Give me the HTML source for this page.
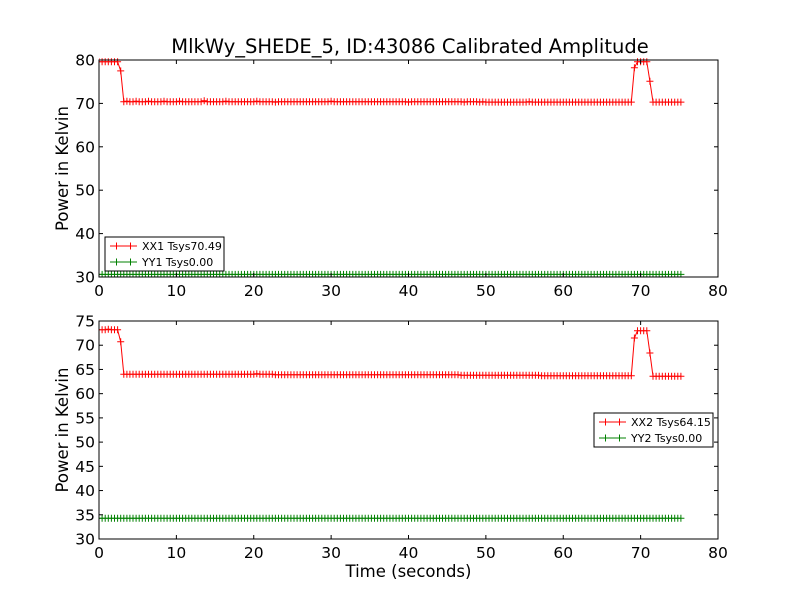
<!DOCTYPE html>
<html><head><meta charset="utf-8">
<style>
html,body{margin:0;padding:0;background:#fff;}
svg{display:block;font-family:"DejaVu Sans","Liberation Sans",sans-serif;}
</style></head>
<body>
<svg id="chart" width="800" height="600" viewBox="0 0 800 600" xmlns="http://www.w3.org/2000/svg">
<rect width="800" height="600" fill="#fff"/>
<text x="410" y="53" font-size="19.5" text-anchor="middle">MlkWy_SHEDE_5, ID:43086 Calibrated Amplitude</text>
<g id="g1"></g>
<g id="g2"></g>
</svg>
<script>
const dt = 0.4;
const xx1 = [79.6,79.6,79.6,79.6,79.6,79.6,79.6,77.5,
70.4,70.5,70.4,70.4,70.5,70.4,70.4,70.4,70.5,70.4,70.4,70.4,70.4,70.5,70.4,
70.4,70.4,70.4,70.5,70.4,70.4,70.4,70.4,70.4,70.4,70.4,70.6,70.4,70.4,70.4,
70.4,70.4,70.4,70.5,70.4,70.4,70.4,70.4,70.4,70.4,70.4,70.4,70.4,70.5,70.4,
70.4,70.4,70.4,70.4,70.3,70.4,70.4,70.4,70.4,70.4,70.4,70.4,70.4,70.4,70.4,
70.4,70.4,70.4,70.4,70.4,70.4,70.4,70.5,70.4,70.4,70.4,70.4,70.4,70.4,70.4,
70.4,70.4,70.4,70.4,70.4,70.4,70.4,70.4,70.4,70.4,70.4,70.4,70.4,70.4,70.4,
70.4,70.4,70.3,70.4,70.4,70.4,70.4,70.4,70.4,70.4,70.4,70.4,70.4,70.4,70.4,
70.4,70.4,70.4,70.4,70.4,70.3,70.4,70.4,70.4,70.4,70.3,70.4,70.3,70.3,70.3,
70.3,70.3,70.3,70.3,70.3,70.3,70.3,70.3,70.3,70.3,70.3,70.4,70.3,70.3,70.3,
70.3,70.3,70.3,70.3,70.3,70.3,70.3,70.3,70.3,70.3,70.3,70.3,70.3,70.3,70.3,
70.3,70.3,70.3,70.3,70.3,70.3,70.3,70.3,70.3,70.3,70.3,70.3,70.3,70.3,70.3,
78.2,79.6,79.6,79.6,79.6,75.1,
70.3,70.3,70.3,70.3,70.3,70.3,70.3,70.3,70.3,70.3];
const xx2 = [73.2,73.2,73.2,73.3,73.2,73.2,73.2,70.7,
64.0,64.0,64.0,64.0,64.0,64.0,64.0,64.0,64.0,64.0,64.0,64.0,64.0,64.0,64.0,
64.0,64.0,64.0,64.0,64.0,64.0,64.0,64.0,64.0,64.0,64.0,64.0,64.0,64.0,64.0,
64.0,64.0,64.0,64.0,64.0,64.0,64.0,64.0,64.0,64.0,64.0,64.0,64.0,64.1,64.0,
64.0,64.0,64.0,64.0,63.9,63.9,63.9,63.9,63.9,63.9,63.9,63.9,63.9,63.9,63.9,
63.9,63.9,63.9,63.9,63.9,63.9,63.9,63.9,63.9,63.9,63.9,63.9,63.9,63.9,63.9,
63.9,63.9,63.9,63.9,63.9,63.9,63.9,63.9,63.9,63.9,63.9,63.9,63.9,63.9,63.9,
63.9,63.9,63.9,63.9,63.9,63.9,63.9,63.9,63.9,63.9,63.9,63.9,63.9,63.9,63.9,
63.9,63.9,63.9,63.9,63.8,63.8,63.8,63.8,63.8,63.8,63.8,63.8,63.8,63.8,63.8,
63.8,63.8,63.8,63.8,63.8,63.8,63.8,63.8,63.8,63.8,63.8,63.8,63.8,63.8,63.8,
63.7,63.7,63.7,63.7,63.7,63.7,63.7,63.7,63.7,63.7,63.7,63.7,63.7,63.7,63.7,
63.7,63.7,63.7,63.7,63.7,63.7,63.7,63.7,63.7,63.7,63.7,63.7,63.7,63.7,63.7,
71.5,73.0,73.0,73.0,73.0,68.4,
63.6,63.6,63.6,63.6,63.6,63.6,63.6,63.6,63.6,63.6];
const yy1Level = [30.6];
const yy2Level = [34.3];
const xTicks = [0,10,20,30,40,50,60,70,80];
const yTicks1 = [30,40,50,60,70,80];
const yTicks2 = [30,35,40,45,50,55,60,65,70,75];
const NS = "http://www.w3.org/2000/svg";
function mk(parent, tag, attrs){const e=document.createElementNS(NS,tag);for(const k in attrs)e.setAttribute(k,attrs[k]);parent.appendChild(e);return e;}

function panel(g, top, bottom, ymin, ymax, yTicks, sA, sB, nameA, nameB, labA, labB, legX, legY, showXTitle, pfx){
  const L=99,R=718;
  const xs=v=>L+(v-0)/(80-0)*(R-L);
  const ys=v=>bottom-(v-ymin)/(ymax-ymin)*(bottom-top);
  const clip=mk(g,'clipPath',{id:'c'+pfx});
  mk(clip,'rect',{x:L,y:top-4,width:R-L,height:bottom-top+4});
  const series=[[sA,'#ff0000',nameA],[sB,'#008000',nameB]];
  series.forEach(([arr,col,nm])=>{
    const sg=mk(g,'g',{'clip-path':'url(#c'+pfx+')'});
    
    
    let d='',m='';
    arr.forEach((v,i)=>{const x=xs(i*dt),y=ys(v);d+=(i?'L':'M')+x.toFixed(1)+' '+y.toFixed(1);m+='M'+(x-3.5).toFixed(1)+' '+y.toFixed(1)+'h7M'+x.toFixed(1)+' '+(y-3.5).toFixed(1)+'v7';});
    const ln=mk(sg,'path',{d:d,fill:'none',stroke:col,'stroke-width':1});
    
    
    const mp=mk(sg,'path',{d:m,fill:'none',stroke:col,'stroke-width':1});
    
    
  });
  const fr=mk(g,'rect',{x:L,y:top,width:R-L,height:bottom-top,fill:'none',stroke:'#000','stroke-width':1});
  
  
  xTicks.forEach(t=>{
    const x=xs(t);
    mk(g,'line',{x1:x,y1:bottom,x2:x,y2:bottom-4,stroke:'#000'});
    mk(g,'line',{x1:x,y1:top,x2:x,y2:top+4,stroke:'#000'});
    const tx=mk(g,'text',{x:x,y:bottom+19,'font-size':15.5,'text-anchor':'middle'});
    tx.textContent=t;
    
    
  });
  yTicks.forEach(t=>{
    const y=ys(t);
    mk(g,'line',{x1:L,y1:y,x2:L+4,y2:y,stroke:'#000'});
    mk(g,'line',{x1:R,y1:y,x2:R-4,y2:y,stroke:'#000'});
    const tx=mk(g,'text',{x:L-4,y:y+5.5,'font-size':15.5,'text-anchor':'end'});
    tx.textContent=t;
    
    
  });
  const yl=mk(g,'text',{x:0,y:0,'font-size':16.5,'text-anchor':'middle',transform:'translate(68,'+((top+bottom)/2)+') rotate(-90)'});
  yl.textContent='Power in Kelvin';
  
  
  if(showXTitle){
    const xt=mk(g,'text',{x:(L+R)/2,y:577,'font-size':16.5,'text-anchor':'middle'});
    xt.textContent='Time (seconds)';
    
    
  }
  const lg=mk(g,'g',{});
  
  
  mk(lg,'rect',{x:legX,y:legY,width:119,height:34,fill:'#fff',stroke:'#000','stroke-width':1});
  [[labA,'#ff0000'],[labB,'#008000']].forEach(([lab,col],i)=>{
    const y=legY+9+i*16;
    const e=mk(lg,'g',{});
    
    
    mk(e,'path',{d:`M${legX+5} ${y}h27M${legX+8} ${y}h7M${legX+11.5} ${y-3.5}v7M${legX+22} ${y}h7M${legX+25.5} ${y-3.5}v7`,stroke:col,fill:'none'});
    const t=mk(e,'text',{x:legX+37,y:y+4,'font-size':11});
    t.textContent=lab;
  });
}
const yy1=[],yy2=[];
xx1.forEach(()=>{yy1.push(yy1Level[0]);yy2.push(yy2Level[0]);});
panel(document.getElementById('g1'),60,277,30,80,yTicks1,xx1,yy1,'xx1','yy1','XX1 Tsys70.49','YY1 Tsys0.00',105,237,false,'a');
panel(document.getElementById('g2'),321,539,30,75,yTicks2,xx2,yy2,'xx2','yy2','XX2 Tsys64.15','YY2 Tsys0.00',594,413,true,'b');
</script>
</body></html>
